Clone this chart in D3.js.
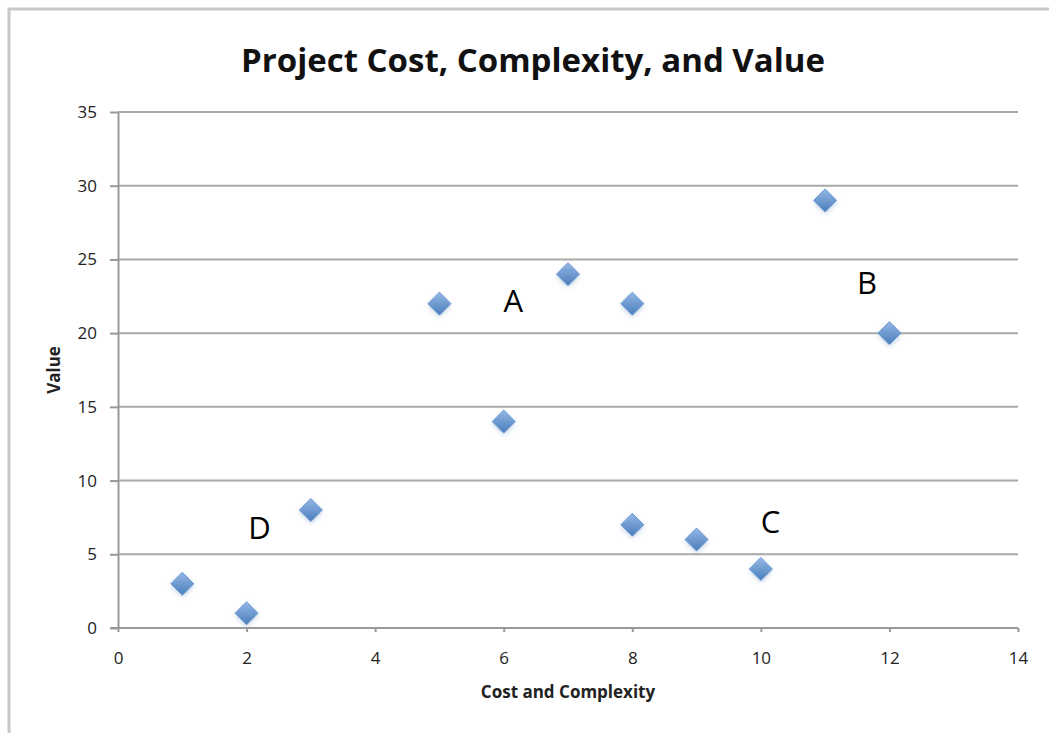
<!DOCTYPE html>
<html>
<head>
	<meta charset="utf-8">
	<script src="https://d3js.org/d3.v7.min.js"></script>
	<style>
		body {
			margin: 0;
			background: #fff;
		}
	</style>
</head>
<body>
	<div id="chart"></div>
	<script>
		// project data
		var costComplexity = [1, 2, 3, 5, 6, 7, 8, 8, 9, 10, 11, 12];
		var value = [3, 1, 8, 22, 14, 24, 22, 7, 6, 4, 29, 20];

		// group labels (placed in data units)
		var groupNames = ["A", "B", "C", "D"];
		var groupX = [6.15, 11.65, 10.15, 2.2];
		var groupY = [22.2, 23.4, 7.2, 6.8];

		var xTicks = [0, 2, 4, 6, 8, 10, 12, 14];
		var yTicks = [0, 5, 10, 15, 20, 25, 30, 35];

		var width = 1049, height = 733;
		var margin = {top: 112, right: 31, bottom: 105, left: 118};
		var font = "\"Open Sans\", \"DejaVu Sans\", sans-serif";

		var svg = d3.select("#chart").append("svg")
			.attr("width", width)
			.attr("height", height);

		// chart frame
		svg.append("path")
			.attr("d", "M9," + height + "V9H" + width)
			.attr("fill", "none")
			.attr("stroke", "#c8c8c8")
			.attr("stroke-width", 3);

		var defs = svg.append("defs");
		var grad = defs.append("linearGradient")
			.attr("id", "dia")
			.attr("x1", "0").attr("y1", "0")
			.attr("x2", "0").attr("y2", "1");
		grad.append("stop").attr("offset", "0%").attr("stop-color", "#94b8e6");
		grad.append("stop").attr("offset", "100%").attr("stop-color", "#4a7ebb");
		var blur = defs.append("filter").attr("id", "shadow")
			.attr("x", "-50%").attr("y", "-50%").attr("width", "200%").attr("height", "200%");
		blur.append("feGaussianBlur").attr("stdDeviation", 2.5);

		var x = d3.scaleLinear().domain([0, 14]).range([margin.left, width - margin.right]);
		var y = d3.scaleLinear().domain([0, 35]).range([height - margin.bottom, margin.top]);

		// gridlines
		svg.append("g")
			.selectAll("line")
			.data(yTicks.slice(1))
			.enter().append("line")
			.attr("x1", x(0)).attr("x2", x(14))
			.attr("y1", function(d) { return y(d); })
			.attr("y2", function(d) { return y(d); })
			.attr("stroke", "#a9a9a9")
			.attr("stroke-width", 2);

		var yAxis = svg.append("g")
			.attr("transform", "translate(" + x(0) + ",0)")
			.call(d3.axisLeft(y).tickValues(yTicks).tickSize(8).tickSizeOuter(0).tickPadding(13));

		var xAxis = svg.append("g")
			.attr("transform", "translate(0," + y(0) + ")")
			.call(d3.axisBottom(x).tickValues(xTicks).tickSize(4).tickSizeOuter(0).tickPadding(20));
		xAxis.select(".domain").attr("d", "M" + (x(0) - 8) + ",0H" + x(14));

		yAxis.attr("font-size", 17).attr("font-family", font);
		xAxis.attr("font-size", 17).attr("font-family", font);
		svg.selectAll(".domain, .tick line")
			.attr("stroke", "#999")
			.attr("stroke-width", 2);
		svg.selectAll(".tick text")
			.attr("font-size", 17)
			.attr("fill", "#222");

		// title
		svg.append("text")
			.attr("x", 533)
			.attr("y", 72)
			.attr("text-anchor", "middle")
			.style("font-family", font)
			.style("font-weight", "bold")
			.style("font-size", "33px")
			.style("fill", "#111")
			.text("Project Cost, Complexity, and Value");

		svg.append("text")
			.attr("x", 568)
			.attr("y", 698)
			.attr("text-anchor", "middle")
			.style("font-family", font)
			.style("font-weight", "bold")
			.style("font-size", "17px")
			.style("fill", "#222")
			.text("Cost and Complexity");

		svg.append("text")
			.attr("transform", "translate(60," + y(17.5) + ") rotate(-90)")
			.attr("text-anchor", "middle")
			.style("font-family", font)
			.style("font-weight", "bold")
			.style("font-size", "17px")
			.style("fill", "#222")
			.text("Value");

		var pts = costComplexity.map(function(c, i) { return {x: c, y: value[i]}; });
		var diamond = "M0,-11.5L11.5,0L0,11.5L-11.5,0Z";

		// soft shadow behind markers
		svg.append("g").selectAll("path")
			.data(pts)
			.enter().append("path")
			.attr("d", diamond)
			.attr("transform", function(d) { return "translate(" + x(d.x) + "," + (y(d.y) + 2) + ")"; })
			.attr("fill", "#9ab3d3")
			.attr("opacity", 0.6)
			.attr("filter", "url(#shadow)");

		svg.append("g").selectAll("path")
			.data(pts)
			.enter().append("path")
			.attr("d", diamond)
			.attr("transform", function(d) { return "translate(" + x(d.x) + "," + y(d.y) + ")"; })
			.attr("fill", "url(#dia)")
			.attr("stroke", "#6f9bd1")
			.attr("stroke-width", 1);

		svg.append("g").selectAll("text")
			.data(groupNames)
			.enter().append("text")
			.attr("x", function(d, i) { return x(groupX[i]); })
			.attr("y", function(d, i) { return y(groupY[i]); })
			.attr("dy", "0.35em")
			.attr("text-anchor", "middle")
			.style("font-family", font)
			.style("font-size", "31px")
			.style("fill", "#000")
			.text(function(d) { return d; });
	</script>
</body>
</html>
